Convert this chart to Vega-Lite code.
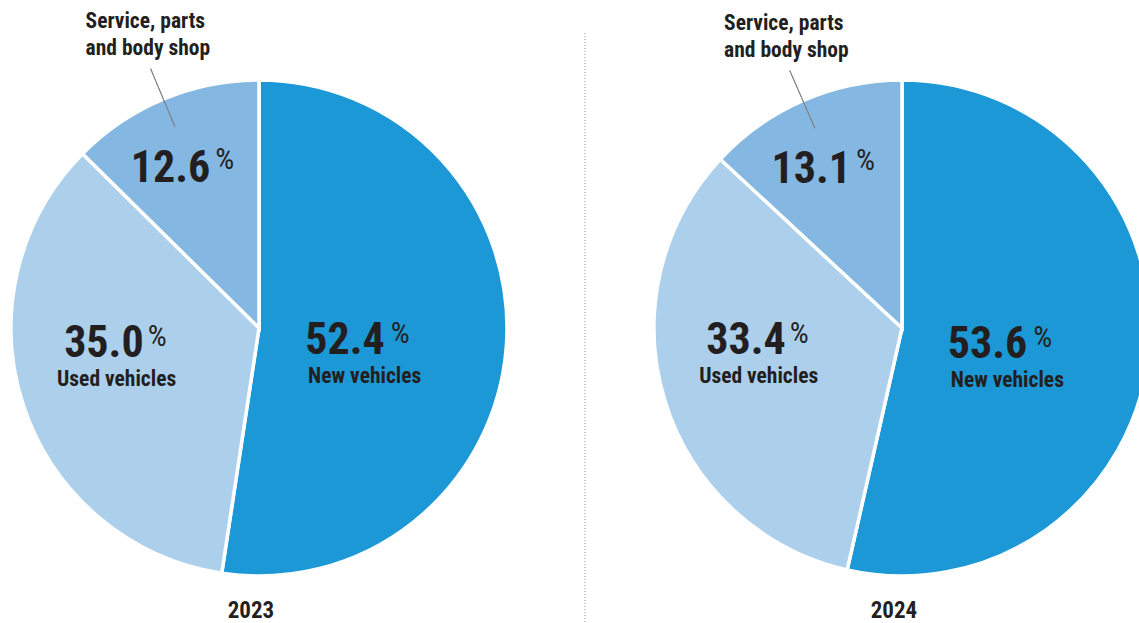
{
  "$schema": "https://vega.github.io/schema/vega-lite/v6.json",
  "width": 1139,
  "height": 590,
  "autosize": {"type": "none"},
  "padding": {"top": 33, "left": 0, "right": 0, "bottom": 0},
  "background": "white",
  "config": {
    "view": {"stroke": null},
    "text": {"font": "Roboto Condensed, DejaVu Sans Condensed, sans-serif", "color": "#231f20"}
  },
  "data": {
    "values": [
      {"year": 2023, "category": "New vehicles", "value": 52.4},
      {"year": 2023, "category": "Used vehicles", "value": 35.0},
      {"year": 2023, "category": "Service, parts and body shop", "value": 12.6},
      {"year": 2024, "category": "New vehicles", "value": 53.6},
      {"year": 2024, "category": "Used vehicles", "value": 33.4},
      {"year": 2024, "category": "Service, parts and body shop", "value": 13.1}
    ]
  },
  "transform": [
    {"stack": "value", "groupby": ["year"], "sort": [{"field": "value", "order": "descending"}], "offset": "normalize", "as": ["v0", "v1"]},
    {"calculate": "(datum.v0 + datum.v1) / 2", "as": "mid"}
  ],
  "layer": [
    {
      "transform": [{"filter": "datum.year === 2023"}],
      "mark": {"type": "arc", "outerRadius": 248, "stroke": "white", "strokeWidth": 3.5},
      "encoding": {
        "x": {"datum": 2023, "type": "quantitative", "scale": {"domain": [2022.5972, 2024.3686], "nice": false, "zero": false}, "axis": null},
        "theta": {"field": "v0", "type": "quantitative", "scale": {"domain": [0, 1], "range": [0, 6.283185307179586]}},
        "theta2": {"field": "v1"},
        "color": {"field": "category", "type": "nominal", "legend": null,
          "scale": {"domain": ["New vehicles", "Used vehicles", "Service, parts and body shop"], "range": ["#1b98d5", "#acd0ec", "#84b8e2"]}}
      }
    },
    {
      "transform": [{"filter": "datum.year === 2024"}],
      "mark": {"type": "arc", "outerRadius": 248, "stroke": "white", "strokeWidth": 3.5},
      "encoding": {
        "x": {"datum": 2024, "type": "quantitative"},
        "theta": {"field": "v0", "type": "quantitative"},
        "theta2": {"field": "v1"},
        "color": {"field": "category", "type": "nominal", "legend": null}
      }
    },
    {
      "transform": [{"filter": "datum.year === 2023 && datum.category === 'Service, parts and body shop'"}],
      "mark": {"type": "arc", "innerRadius": 218, "outerRadius": 281, "filled": false, "stroke": "#808285", "strokeWidth": 1},
      "encoding": {
        "x": {"datum": 2023, "type": "quantitative"},
        "theta": {"field": "mid", "type": "quantitative"},
        "theta2": {"field": "mid"}
      }
    },
    {
      "transform": [{"filter": "datum.year === 2024 && datum.category === 'Service, parts and body shop'"}],
      "mark": {"type": "arc", "innerRadius": 218, "outerRadius": 281, "filled": false, "stroke": "#808285", "strokeWidth": 1},
      "encoding": {
        "x": {"datum": 2024, "type": "quantitative"},
        "theta": {"field": "mid", "type": "quantitative"},
        "theta2": {"field": "mid"}
      }
    },
    {
      "transform": [{"filter": "datum.year === 2023 && datum.category === 'New vehicles'"}],
      "mark": {"type": "rule", "stroke": "#8c8c8c", "strokeWidth": 1, "strokeDash": [1, 2]},
      "encoding": {"x": {"datum": 2023.507, "type": "quantitative"}}
    },
    {
      "transform": [{"filter": "datum.category === 'New vehicles'"}],
      "mark": {"type": "text", "radius": 110, "dx": 16, "dy": 18, "align": "right", "baseline": "alphabetic", "fontSize": 44, "fontWeight": "bold"},
      "encoding": {
        "x": {"field": "year", "type": "quantitative"},
        "theta": {"field": "mid", "type": "quantitative"},
        "text": {"field": "value", "type": "quantitative", "format": ".1f"}
      }
    },
    {
      "transform": [{"filter": "datum.category === 'New vehicles'"}],
      "mark": {"type": "text", "radius": 110, "dx": 22, "dy": 7, "align": "left", "baseline": "alphabetic", "fontSize": 30, "fontWeight": "normal", "text": "%"},
      "encoding": {
        "x": {"field": "year", "type": "quantitative"},
        "theta": {"field": "mid", "type": "quantitative"}
      }
    },
    {
      "transform": [{"filter": "datum.category === 'New vehicles'"}],
      "mark": {"type": "text", "radius": 110, "dx": -4, "dy": 47, "align": "center", "baseline": "alphabetic", "fontSize": 21.5, "fontWeight": "bold"},
      "encoding": {
        "x": {"field": "year", "type": "quantitative"},
        "theta": {"field": "mid", "type": "quantitative"},
        "text": {"field": "category", "type": "nominal"}
      }
    },
    {
      "transform": [{"filter": "datum.category === 'Used vehicles'"}],
      "mark": {"type": "text", "radius": 150, "dx": 27, "dy": -18, "align": "right", "baseline": "alphabetic", "fontSize": 44, "fontWeight": "bold"},
      "encoding": {
        "x": {"field": "year", "type": "quantitative"},
        "theta": {"field": "mid", "type": "quantitative"},
        "text": {"field": "value", "type": "quantitative", "format": ".1f"}
      }
    },
    {
      "transform": [{"filter": "datum.category === 'Used vehicles'"}],
      "mark": {"type": "text", "radius": 150, "dx": 31, "dy": -29, "align": "left", "baseline": "alphabetic", "fontSize": 30, "fontWeight": "normal", "text": "%"},
      "encoding": {
        "x": {"field": "year", "type": "quantitative"},
        "theta": {"field": "mid", "type": "quantitative"}
      }
    },
    {
      "transform": [{"filter": "datum.category === 'Used vehicles'"}],
      "mark": {"type": "text", "radius": 150, "dx": 0, "dy": 11, "align": "center", "baseline": "alphabetic", "fontSize": 21.5, "fontWeight": "bold"},
      "encoding": {
        "x": {"field": "year", "type": "quantitative"},
        "theta": {"field": "mid", "type": "quantitative"},
        "text": {"field": "category", "type": "nominal"}
      }
    },
    {
      "transform": [{"filter": "datum.category === 'Service, parts and body shop'"}],
      "mark": {"type": "text", "radius": 160, "dx": 13, "dy": 2, "align": "right", "baseline": "alphabetic", "fontSize": 44, "fontWeight": "bold"},
      "encoding": {
        "x": {"field": "year", "type": "quantitative"},
        "theta": {"field": "mid", "type": "quantitative"},
        "text": {"field": "value", "type": "quantitative", "format": ".1f"}
      }
    },
    {
      "transform": [{"filter": "datum.category === 'Service, parts and body shop'"}],
      "mark": {"type": "text", "radius": 160, "dx": 18, "dy": -11, "align": "left", "baseline": "alphabetic", "fontSize": 30, "fontWeight": "normal", "text": "%"},
      "encoding": {
        "x": {"field": "year", "type": "quantitative"},
        "theta": {"field": "mid", "type": "quantitative"}
      }
    },
    {
      "transform": [{"filter": "datum.category === 'Service, parts and body shop'"}],
      "mark": {"type": "text", "radius": 320, "dx": -50, "dy": -22, "align": "left", "baseline": "top", "lineHeight": 27, "fontSize": 21.5, "fontWeight": "bold", "text": ["Service, parts", "and body shop"]},
      "encoding": {
        "x": {"field": "year", "type": "quantitative"},
        "theta": {"field": "mid", "type": "quantitative"}
      }
    },
    {
      "transform": [{"filter": "datum.category === 'New vehicles'"}],
      "mark": {"type": "text", "radius": 290, "theta": 3.141592653589793, "dx": -8, "align": "center", "baseline": "alphabetic", "fontSize": 23, "fontWeight": "bold"},
      "encoding": {
        "x": {"field": "year", "type": "quantitative"},
        "text": {"field": "year", "type": "nominal"}
      }
    }
  ]
}
